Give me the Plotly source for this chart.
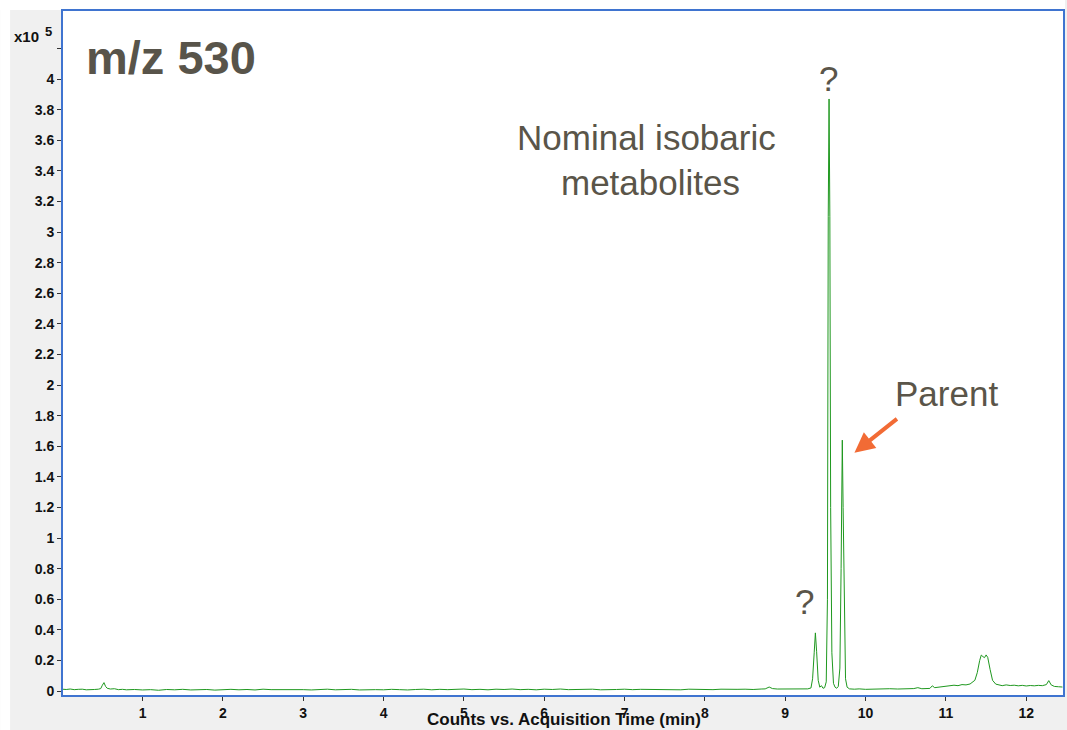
import plotly.graph_objects as go

# ---------------- data ----------------
TIME_MIN = [
    0.00, 0.05, 0.10, 0.15, 0.20, 0.25, 0.30, 0.35, 0.40, 0.45,
    0.48, 0.50, 0.52, 0.54, 0.56, 0.60, 0.65, 0.70, 0.75,
    0.8, 0.9, 1.0, 1.1, 1.2, 1.3, 1.4, 1.5, 1.6, 1.7, 1.8, 1.9,
    2.0, 2.1, 2.2, 2.3, 2.4, 2.5, 2.6, 2.7, 2.8, 2.9,
    3.0, 3.1, 3.2, 3.3, 3.4, 3.5, 3.6, 3.7, 3.8, 3.9,
    4.0, 4.1, 4.2, 4.3, 4.4, 4.5, 4.6, 4.7, 4.8, 4.9,
    5.0, 5.1, 5.2, 5.3, 5.4, 5.5, 5.6, 5.7, 5.8, 5.9,
    6.0, 6.1, 6.2, 6.3, 6.4, 6.5, 6.6, 6.7, 6.8, 6.9,
    7.0, 7.1, 7.2, 7.3, 7.4, 7.5, 7.6, 7.7, 7.8, 7.9,
    8.0, 8.1, 8.2, 8.3, 8.4, 8.5, 8.6, 8.7, 8.75, 8.80, 8.84, 8.9,
    9.0, 9.1, 9.2, 9.28, 9.32, 9.34, 9.36, 9.375, 9.39, 9.41,
    9.43, 9.45, 9.47, 9.49, 9.51, 9.525, 9.535, 9.545, 9.555, 9.565,
    9.58, 9.60, 9.62, 9.64, 9.66, 9.68, 9.695, 9.71, 9.72, 9.735,
    9.75, 9.77, 9.80, 9.86, 9.92, 10.0, 10.1, 10.2, 10.3, 10.4,
    10.5, 10.6, 10.65, 10.7, 10.8, 10.83, 10.86, 10.9, 10.95, 11.0,
    11.05, 11.1, 11.15, 11.2, 11.25, 11.3, 11.36, 11.39, 11.42, 11.44,
    11.46, 11.48, 11.50, 11.52, 11.55, 11.58, 11.62, 11.66, 11.7, 11.75,
    11.8, 11.85, 11.9, 11.95, 12.0, 12.05, 12.1, 12.15, 12.2, 12.25,
    12.28, 12.31, 12.35, 12.4, 12.45,
]
COUNTS_E5 = [
    0.012, 0.010, 0.013, 0.009, 0.011, 0.012, 0.008, 0.011, 0.010, 0.012,
    0.016, 0.038, 0.055, 0.030, 0.018, 0.013, 0.015, 0.009, 0.011,
    0.008, 0.010, 0.007, 0.009, 0.005, 0.010, 0.008, 0.011, 0.007, 0.009, 0.010, 0.006,
    0.009, 0.011, 0.008, 0.010, 0.007, 0.012, 0.009, 0.010, 0.008, 0.011,
    0.009, 0.007, 0.010, 0.012, 0.008, 0.009, 0.011, 0.007, 0.010, 0.009,
    0.008, 0.011, 0.009, 0.007, 0.010, 0.012, 0.008, 0.011, 0.009, 0.010,
    0.013, 0.009, 0.011, 0.008, 0.012, 0.010, 0.013, 0.009, 0.011, 0.008,
    0.012, 0.010, 0.013, 0.009, 0.011, 0.010, 0.012, 0.008, 0.011, 0.010,
    0.012, 0.009, 0.011, 0.010, 0.013, 0.009, 0.011, 0.008, 0.012, 0.010,
    0.011, 0.009, 0.012, 0.010, 0.011, 0.012, 0.010, 0.013, 0.014, 0.026, 0.016, 0.013,
    0.014, 0.012, 0.015, 0.014, 0.020, 0.080, 0.250, 0.380, 0.260, 0.070,
    0.025, 0.035, 0.018, 0.022, 0.060, 0.600, 3.100, 3.870, 3.100, 1.200,
    0.250, 0.050, 0.025, 0.018, 0.030, 0.150, 0.800, 1.640, 1.200, 0.400,
    0.080, 0.025, 0.014, 0.012, 0.014, 0.011, 0.013, 0.012, 0.015, 0.013,
    0.014, 0.016, 0.022, 0.015, 0.017, 0.034, 0.022, 0.024, 0.028, 0.032,
    0.036, 0.038, 0.035, 0.042, 0.040, 0.046, 0.070, 0.120, 0.200, 0.235,
    0.225, 0.218, 0.236, 0.220, 0.140, 0.070, 0.045, 0.038, 0.035, 0.040,
    0.036, 0.038, 0.034, 0.037, 0.033, 0.036, 0.034, 0.037, 0.035, 0.042,
    0.068, 0.040, 0.030, 0.028, 0.026,
]
X_TICKS = [1, 2, 3, 4, 5, 6, 7, 8, 9, 10, 11, 12]
Y_TICKS = [0, 0.2, 0.4, 0.6, 0.8, 1, 1.2, 1.4, 1.6, 1.8, 2, 2.2, 2.4, 2.6,
           2.8, 3, 3.2, 3.4, 3.6, 3.8, 4, 4.2]
Y_TICK_LABELS = ["0", "0.2", "0.4", "0.6", "0.8", "1", "1.2", "1.4", "1.6",
                 "1.8", "2", "2.2", "2.4", "2.6", "2.8", "3", "3.2", "3.4",
                 "3.6", "3.8", "4", ""]

# ---------------- figure ----------------
W, H = 1067, 730
ML, MR, MT, MB = 63, 2, 11, 35
PW, PH = W - ML - MR, H - MT - MB


def px(x):
    return (x - ML) / PW


def py(y):
    return (H - MB - y) / PH


FRAME = "#3f74d0"
TXT = "#5a5549"
FONT = "Arial, Liberation Sans, sans-serif"

fig = go.Figure()
fig.add_trace(go.Scatter(x=TIME_MIN, y=COUNTS_E5, mode="lines",
                         line=dict(color="#1f981f", width=1),
                         hoverinfo="skip", showlegend=False))

axis_common = dict(showgrid=False, zeroline=False, showline=True, mirror=True,
                   linecolor=FRAME, linewidth=2, ticks="outside", ticklen=4,
                   tickcolor="#333333", tickwidth=1,
                   tickfont=dict(family=FONT, size=14, color="#111111", weight="bold"))

fig.update_xaxes(range=[0.01, 12.457], tickmode="array", tickvals=X_TICKS,
                 ticktext=[str(v) for v in X_TICKS], **axis_common)
fig.update_yaxes(range=[-0.026, 4.445], tickmode="array", tickvals=Y_TICKS,
                 ticktext=Y_TICK_LABELS, **axis_common)

ann = []
# axis title
ann.append(dict(text="Counts vs. Acquisition Time (min)", xref="paper", yref="paper",
                x=px(565), y=py(719), xanchor="center", yanchor="middle", showarrow=False,
                font=dict(family=FONT, size=17, color="#111111", weight="bold")))
# x10^5
ann.append(dict(text="x10", xref="paper", yref="paper", x=px(12), y=py(37),
                xanchor="left", yanchor="middle", showarrow=False,
                font=dict(family=FONT, size=15, color="#111111", weight="bold")))
ann.append(dict(text="5", xref="paper", yref="paper", x=px(43), y=py(32),
                xanchor="left", yanchor="middle", showarrow=False,
                font=dict(family=FONT, size=13, color="#111111", weight="bold")))
# m/z 530
ann.append(dict(text="m/z 530", xref="paper", yref="paper", x=px(171), y=py(58),
                xanchor="center", yanchor="middle", showarrow=False,
                font=dict(family=FONT, size=47, color="#58544a", weight="bold")))
# labels
for t, cx, cy in [("Nominal isobaric", 648, 137), ("metabolites", 652, 182),
                  ("?", 830, 78), ("?", 806, 601), ("Parent", 948, 393)]:
    ann.append(dict(text=t, xref="paper", yref="paper", x=px(cx), y=py(cy),
                    xanchor="center", yanchor="middle", showarrow=False,
                    font=dict(family=FONT, size=35, color=TXT)))
# arrow to parent peak
ann.append(dict(text="", x=(856 - 62.2) / 80.5, y=(690 - 452) / 152.75, xref="x", yref="y",
                showarrow=True, ax=44, ay=-35, arrowhead=2, arrowsize=1.0,
                arrowwidth=4, arrowcolor="#f26b35"))

shapes = [
    dict(type="rect", xref="paper", yref="paper", layer="below",
         x0=px(0), x1=px(10), y0=py(H), y1=py(0), fillcolor="white", line=dict(width=0)),
    dict(type="rect", xref="paper", yref="paper", layer="below",
         x0=px(0), x1=px(W), y0=py(10), y1=py(0), fillcolor="white", line=dict(width=0)),
]

fig.update_layout(width=W, height=H, margin=dict(l=ML, r=MR, t=MT, b=MB),
                  paper_bgcolor="#f0f0f0", plot_bgcolor="white",
                  annotations=ann, shapes=shapes, showlegend=False,
                  font=dict(family=FONT))

fig.write_html("out.html", config={"displayModeBar": False})
